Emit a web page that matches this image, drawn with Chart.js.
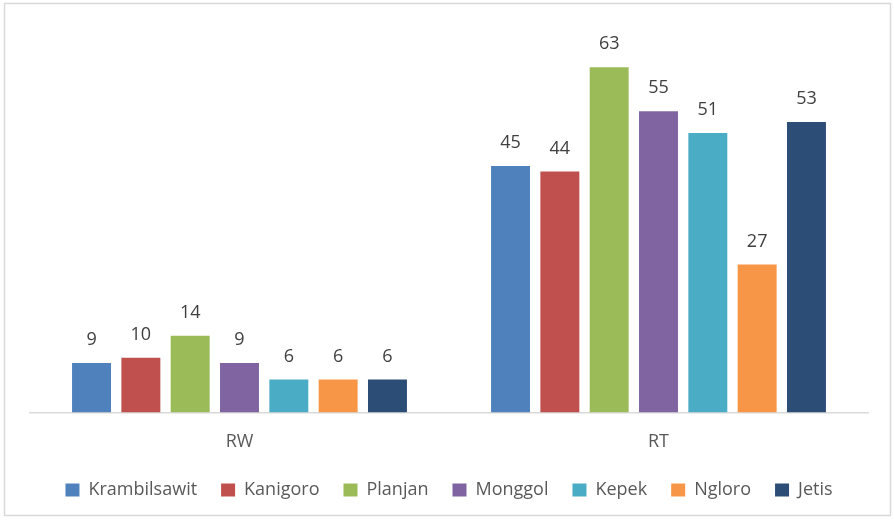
<!DOCTYPE html>
<html>
<head>
<meta charset="utf-8">
<style>
html,body{margin:0;padding:0;background:#fff;}
#wrap{width:894px;height:525px;position:relative;}
</style>
<script src="https://cdn.jsdelivr.net/npm/chart.js@4/dist/chart.umd.min.js"></script>
</head>
<body>
<div id="wrap"><canvas id="c" width="894" height="525"></canvas></div>
<script>
const categories = ["RW", "RT"];
const seriesNames = ["Krambilsawit", "Kanigoro", "Planjan", "Monggol", "Kepek", "Ngloro", "Jetis"];
const krambilsawit = [9, 45];
const kanigoro = [10, 44];
const planjan = [14, 63];
const monggol = [9, 55];
const kepek = [6, 51];
const ngloro = [6, 27];
const jetis = [6, 53];
const seriesColors = ["#4F81BD", "#C0504D", "#9BBB59", "#8064A2", "#4BACC6", "#F79646", "#2C4D75"];

const seriesValues = [krambilsawit, kanigoro, planjan, monggol, kepek, ngloro, jetis];

const FONT = "'Open Sans', 'Noto Sans', sans-serif";

const borderPlugin = {
  id: 'outerBorder',
  beforeDraw(chart) {
    const ctx = chart.ctx;
    ctx.save();
    ctx.fillStyle = '#fff';
    ctx.fillRect(0, 0, chart.width, chart.height);
    ctx.strokeStyle = '#d9d9d9';
    ctx.lineWidth = 1.5;
    ctx.strokeRect(4.5, 3.5, 886, 512);
    ctx.restore();
  }
};

const labelPlugin = {
  id: 'valueLabels',
  afterDatasetsDraw(chart) {
    const ctx = chart.ctx;
    ctx.save();
    ctx.font = "18px " + FONT;
    ctx.fillStyle = '#404040';
    ctx.textAlign = 'center';
    ctx.textBaseline = 'middle';
    chart.data.datasets.forEach((ds, i) => {
      const meta = chart.getDatasetMeta(i);
      meta.data.forEach((bar, j) => {
        ctx.fillText(String(ds.data[j]), bar.x, bar.y - 23);
      });
    });
    ctx.restore();
  }
};

new Chart(document.getElementById('c'), {
  type: 'bar',
  data: {
    labels: categories,
    datasets: seriesNames.map((name, i) => ({
      label: name,
      data: seriesValues[i],
      backgroundColor: seriesColors[i],
      borderWidth: 0,
      categoryPercentage: 0.824,
      barPercentage: 0.79
    }))
  },
  options: {
    responsive: false,
    animation: false,
    devicePixelRatio: 1,
    layout: { padding: { left: 30, right: 26, top: 29, bottom: 16 } },
    scales: {
      x: {
        grid: { display: false, drawTicks: false },
        border: { display: true, color: '#d9d9d9', width: 1.5 },
        ticks: { color: '#595959', font: { size: 18, family: FONT }, padding: 19 },
        afterFit(scale) { scale.height = scale.height - 15; }
      },
      y: {
        display: false,
        min: 0,
        max: 70
      }
    },
    plugins: {
      legend: {
        position: 'bottom',
        labels: {
          boxWidth: 14,
          boxHeight: 13,
          color: '#595959',
          font: { size: 18, family: FONT },
          padding: 24
        }
      },
      tooltip: { enabled: false }
    }
  },
  plugins: [borderPlugin, labelPlugin]
});
</script>
</body>
</html>
